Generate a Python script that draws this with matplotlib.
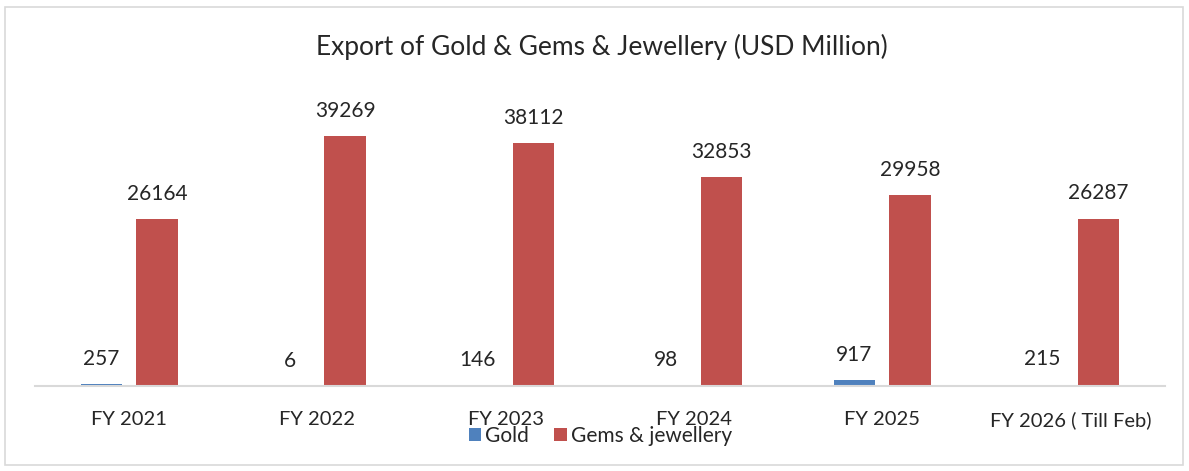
import matplotlib.pyplot as plt
import numpy as np
from matplotlib.patches import Rectangle

# === data ===
years = ["FY 2021", "FY 2022", "FY 2023", "FY 2024", "FY 2025", "FY 2026 ( Till Feb)"]
gold = [257, 6, 146, 98, 917, 215]
gems = [26164, 39269, 38112, 32853, 29958, 26287]

plt.rcParams["font.family"] = ["Lato", "DejaVu Sans"]

fig = plt.figure(figsize=(11.89, 4.71), dpi=100)
ax = fig.add_axes([0.0294, 0.1805, 0.950, 0.608])

x = np.arange(len(years))
w = 0.22
off = 0.148
b1 = ax.bar(x - off, gold, w, color="#4F81BD", label="Gold")
b2 = ax.bar(x + off, gems, w, color="#C0504D", label="Gems & jewellery")
ax.bar_label(b1, padding=11, fontsize=15, color="#262626")
ax.bar_label(b2, padding=11, fontsize=15, color="#262626")

ax.set_xlim(-0.5, len(years) - 0.5)
ax.set_ylim(0, 45000)
ax.set_xticks(x)
ax.set_xticklabels(years, fontsize=14.5, color="#262626")
ax.tick_params(axis="x", length=0, pad=18)
ax.set_yticks([])
for s in ["top", "left", "right"]:
    ax.spines[s].set_visible(False)
ax.spines["bottom"].set_color("#d9d9d9")
ax.spines["bottom"].set_linewidth(1.5)

fig.text(0.506, 0.90, "Export of Gold & Gems & Jewellery (USD Million)",
         ha="center", va="center", fontsize=19, color="#262626")

fig.legend(loc="center", bbox_to_anchor=(0.505, 0.074), ncol=2, frameon=False,
           fontsize=15, handlelength=0.6, handleheight=0.6, handletextpad=0.2,
           columnspacing=1.2, labelcolor="#262626")

fig.patches.append(Rectangle((0.004, 0.013), 0.991, 0.972, transform=fig.transFigure,
                             fill=False, edgecolor="#d9d9d9", linewidth=1.2))

fig.savefig("out.png", dpi=100)
